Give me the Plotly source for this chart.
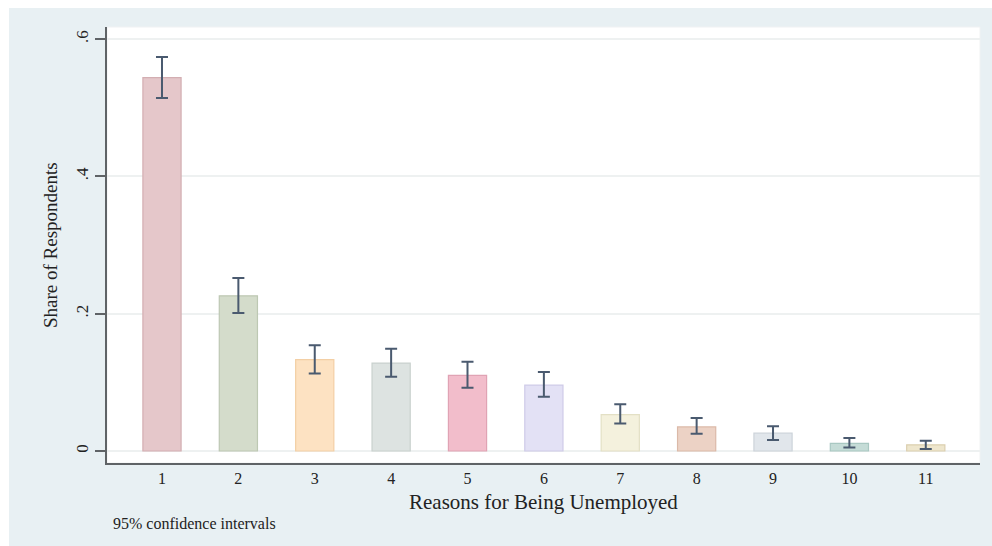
import plotly.graph_objects as go

# ---- data ----
reasons = [1, 2, 3, 4, 5, 6, 7, 8, 9, 10, 11]
share = [0.544, 0.226, 0.133, 0.128, 0.110, 0.096, 0.053, 0.035, 0.026, 0.011, 0.009]
ci_low = [0.514, 0.201, 0.113, 0.108, 0.092, 0.079, 0.040, 0.025, 0.016, 0.005, 0.003]
ci_high = [0.574, 0.252, 0.154, 0.149, 0.130, 0.115, 0.068, 0.048, 0.036, 0.019, 0.015]
ytick_vals = [0, 0.2, 0.4, 0.6]
ytick_text = ["0", ".2", ".4", ".6"]

fills = ["#e5c7ca", "#d4dccb", "#fde2c2", "#dde3e1", "#f2bdcb", "#e3e1f5",
         "#f4f1dd", "#ecd2c5", "#e1e6eb", "#c5dcd7", "#eee6cd"]
borders = ["#d3aeb2", "#bdc8b3", "#f3cfa5", "#c9d1ce", "#e0a3b4", "#cfcbe8",
           "#e3e0c5", "#dbb9a8", "#cdd3da", "#a9c8c2", "#dccfb0"]

err_plus = [h - v for h, v in zip(ci_high, share)]
err_minus = [v - l for v, l in zip(share, ci_low)]

W, H = 992, 546
L, R, T, B = 107, 12, 27, 83
pw, ph = W - L - R, H - T - B

def px_x(x):
    return (x - L) / pw

def px_y(y):
    return (H - B - y) / ph

SERIF = "Liberation Serif, Times New Roman, serif"
BG = "#e8f0f3"

fig = go.Figure()
fig.add_trace(go.Bar(
    x=reasons, y=share, width=0.5,
    marker=dict(color=fills, line=dict(color=borders, width=1.2)),
    error_y=dict(type="data", symmetric=False, array=err_plus, arrayminus=err_minus,
                 color="#4a5a6f", thickness=2, width=6),
    showlegend=False,
))

fig.update_layout(
    width=W, height=H,
    margin=dict(l=L, r=R, t=T, b=B, pad=0),
    paper_bgcolor="white",
    plot_bgcolor="white",
    font=dict(family=SERIF, color="#222222"),
    xaxis=dict(
        range=[0.28, 11.71], tickmode="array", tickvals=reasons,
        ticktext=[str(r) for r in reasons],
        ticks="",
        tickfont=dict(size=16, family=SERIF, color="#222222"),
        showgrid=False, zeroline=False,
        showline=True, linecolor="#5f6366", linewidth=2,
        fixedrange=True,
    ),
    yaxis=dict(
        range=[-0.0175, 0.6176], tickmode="array", tickvals=ytick_vals,
        ticktext=ytick_text, tickangle=-90,
        ticks="outside", ticklen=10, tickwidth=1.5, tickcolor="#5f6366",
        tickfont=dict(size=17, family=SERIF, color="#222222"),
        showgrid=True, gridcolor="#eef1f1", gridwidth=1.5,
        zeroline=False,
        showline=True, linecolor="#5f6366", linewidth=2,
    ),
    shapes=[
        dict(type="rect", xref="paper", yref="paper", layer="below",
             x0=px_x(9), x1=px_x(W + 5), y0=px_y(H + 5), y1=px_y(8),
             fillcolor=BG, line=dict(width=0)),
        dict(type="rect", xref="paper", yref="paper", layer="below",
             x0=0, x1=1, y0=0, y1=1,
             fillcolor="white", line=dict(color="#f0f2f3", width=1)),
    ],
    annotations=[
        dict(text="Reasons for Being Unemployed", xref="paper", yref="paper",
             x=0.5, y=px_y(502), xanchor="center", yanchor="middle",
             showarrow=False, font=dict(size=21, family=SERIF, color="#222222")),
        dict(text="Share of Respondents", xref="paper", yref="paper",
             x=px_x(50), y=px_y(245), xanchor="center", yanchor="middle",
             textangle=-90, showarrow=False,
             font=dict(size=19, family=SERIF, color="#222222")),
        dict(text="95% confidence intervals", xref="paper", yref="paper",
             x=px_x(111), y=px_y(523), xanchor="left", yanchor="middle",
             showarrow=False, font=dict(size=16, family=SERIF, color="#222222")),
    ],
)

fig.write_html("out.html")
